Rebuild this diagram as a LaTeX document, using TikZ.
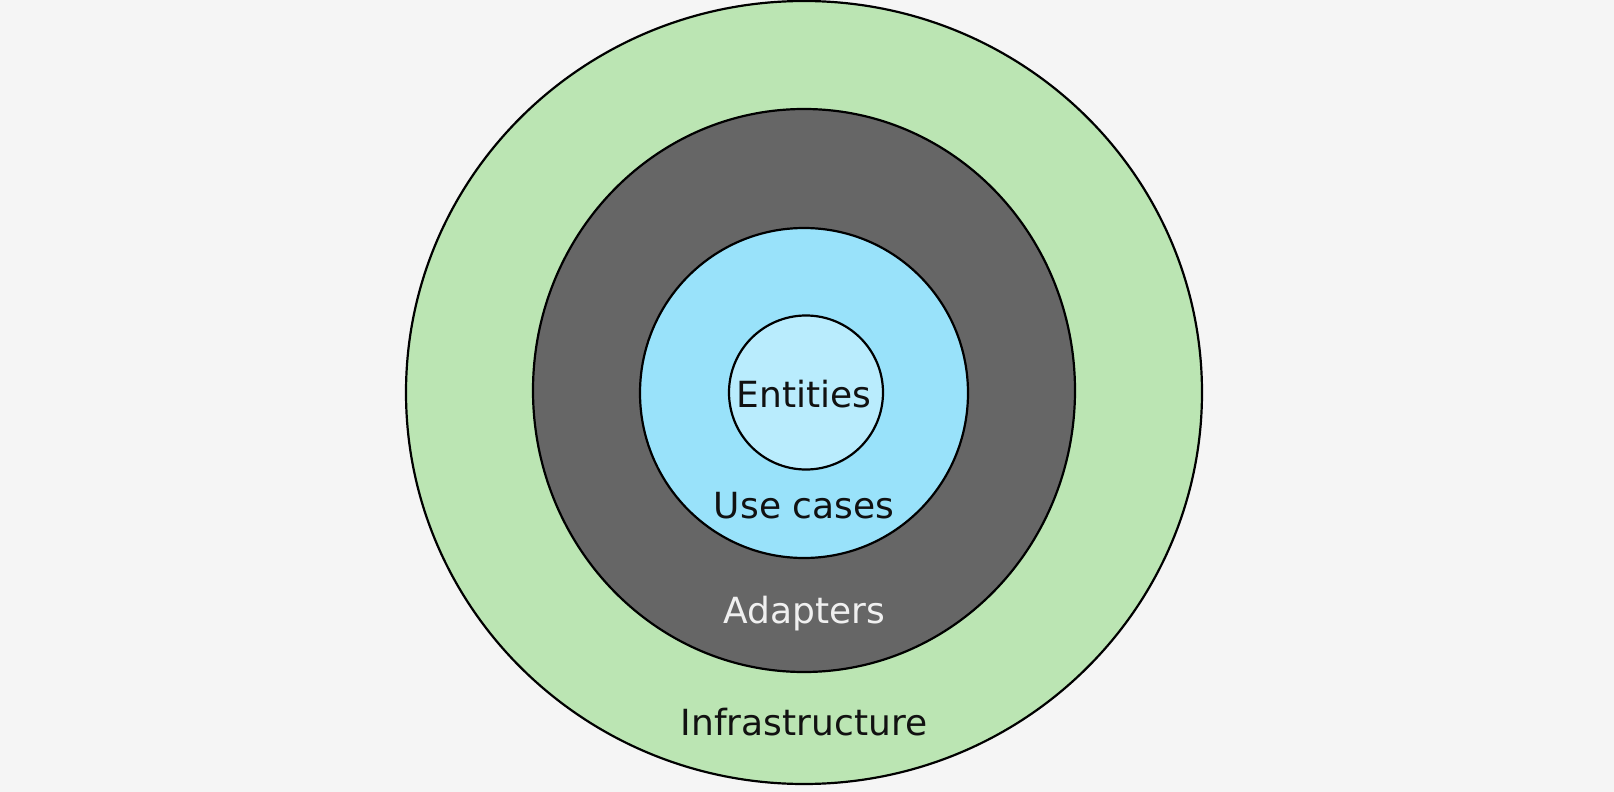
\documentclass[tikz,border=0pt]{standalone}
\usepackage{fontspec}
\setmainfont{DejaVu Sans}
\definecolor{bgc}{HTML}{F5F5F5}
\definecolor{infrac}{HTML}{BBE5B3}
\definecolor{adapc}{HTML}{666666}
\definecolor{usec}{HTML}{99E2FA}
\definecolor{entc}{HTML}{B9ECFD}
\definecolor{txtc}{HTML}{111111}
\begin{document}
\begin{tikzpicture}[x=0.5pt,y=-0.5pt,
  ring/.style={draw=black,line width=1.1pt},
  lbl/.style={anchor=base,inner sep=0pt,font=\fontsize{18}{21}\selectfont,text=txtc}]
\fill[bgc] (0,0) rectangle (1614,792);
\useasboundingbox (0,0) rectangle (1614,792);
\draw[ring,fill=infrac] (804,392.5) ellipse [x radius=199pt,y radius=195.75pt];
\draw[ring,fill=adapc] (804,390.5) ellipse [x radius=135.5pt,y radius=140.75pt];
\draw[ring,fill=usec] (804,393) ellipse [x radius=82pt,y radius=82.5pt];
\draw[ring,fill=entc] (806,392.5) circle [radius=38.5pt];
\node[lbl] (ent) at (804,407) {Entities};
\node[lbl] (use) at (804,518) {Use cases};
\node[lbl,text=white!94!black] (adap) at (804,623) {Adapters};
\node[lbl] (infra) at (804,735) {Infrastructure};
\end{tikzpicture}
\end{document}
